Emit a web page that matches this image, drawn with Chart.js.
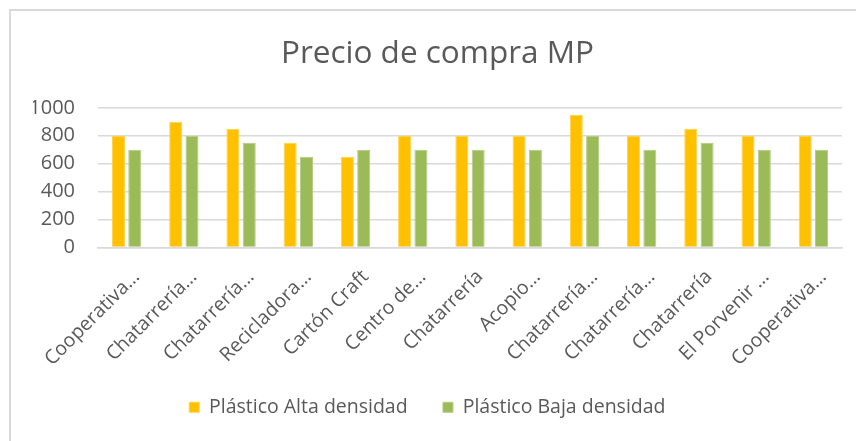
<!DOCTYPE html>
<html>
<head>
<meta charset="utf-8">
<script src="https://cdn.jsdelivr.net/npm/chart.js@4/dist/chart.umd.min.js"></script>
<style>
    body { margin: 0; background: #fff; }
    #wrap { position: relative; width: 857px; height: 441px; }
    #frame {
        position: absolute; left: 9px; top: 9px; right: 1px; bottom: -2px;
        border-top: 2px solid #d9d9d9; border-left: 2px solid #d9d9d9;
    }
    #chart { position: absolute; left: 0; top: 0; }
</style>
</head>
<body>
<div id="wrap">
    <div id="frame"></div>
    <canvas id="chart" width="857" height="441"></canvas>
</div>
<script>
const categories = [
    'Cooperativa…', 'Chatarrería…', 'Chatarrería…', 'Recicladora…', 'Cartón Craft',
    'Centro de…', 'Chatarrería', 'Acopio…', 'Chatarrería…', 'Chatarrería…',
    'Chatarrería', 'El Porvenir …', 'Cooperativa…'
];
const altaDensidad = [800, 900, 850, 750, 650, 800, 800, 800, 950, 800, 850, 800, 800];
const bajaDensidad = [700, 800, 750, 650, 700, 700, 700, 700, 800, 700, 750, 700, 700];
const yTicks = [0, 200, 400, 600, 800, 1000];

const textColor = '#595959';
const gridColor = '#d9d9d9';
const fontFamily = '"Open Sans", sans-serif';

document.addEventListener("DOMContentLoaded", () => {
    renderChart();
});

function renderChart() {
    const ctx = document.getElementById('chart').getContext('2d');

    new Chart(ctx, {
        type: 'bar',
        data: {
            labels: categories,
            datasets: [
                {
                    label: 'Plástico Alta densidad',
                    data: altaDensidad,
                    backgroundColor: '#ffc000',
                    borderColor: '#ffd34d',
                    borderWidth: 1
                },
                {
                    label: 'Plástico Baja densidad',
                    data: bajaDensidad,
                    backgroundColor: '#9bbb59',
                    borderColor: '#b4cc84',
                    borderWidth: 1
                }
            ]
        },
        options: {
            responsive: false,
            animation: false,
            categoryPercentage: 0.57,
            barPercentage: 0.8,
            layout: {
                padding: { left: 33, right: 15, top: 0, bottom: 14 }
            },
            plugins: {
                title: {
                    display: true,
                    text: 'Precio de compra MP',
                    color: textColor,
                    font: { family: fontFamily, size: 31.5, weight: 'normal' },
                    padding: { top: 35, bottom: 35 }
                },
                legend: {
                    position: 'bottom',
                    labels: {
                        color: textColor,
                        font: { family: fontFamily, size: 19.5 },
                        boxWidth: 10,
                        boxHeight: 10,
                        padding: 10,
                        generateLabels: chart => {
                            const items = Chart.defaults.plugins.legend.labels.generateLabels(chart);
                            // wider gap between entries, nudge the row left
                            items[0].text += '     ';
                            items[1].text += '    ';
                            return items;
                        }
                    }
                },
                tooltip: { enabled: false }
            },
            scales: {
                x: {
                    grid: { display: false },
                    border: { display: true, color: gridColor, width: 1.5 },
                    ticks: {
                        color: textColor,
                        font: { family: fontFamily, size: 19.5 },
                        minRotation: 45,
                        maxRotation: 45,
                        autoSkip: false,
                        padding: 10,
                        labelOffset: 10
                    },
                    afterFit: scale => { scale.height = 140; }
                },
                y: {
                    min: 0,
                    max: 1000,
                    grid: { color: gridColor, lineWidth: 1.5, drawTicks: false },
                    border: { display: false },
                    ticks: {
                        color: textColor,
                        font: { family: fontFamily, size: 20 },
                        padding: 23,
                        callback: value => String(value)
                    },
                    afterBuildTicks: scale => {
                        scale.ticks = yTicks.map(v => ({ value: v }));
                    },
                    afterFit: scale => { scale.width = 65; }
                }
            }
        }
    });
}
</script>
</body>
</html>
